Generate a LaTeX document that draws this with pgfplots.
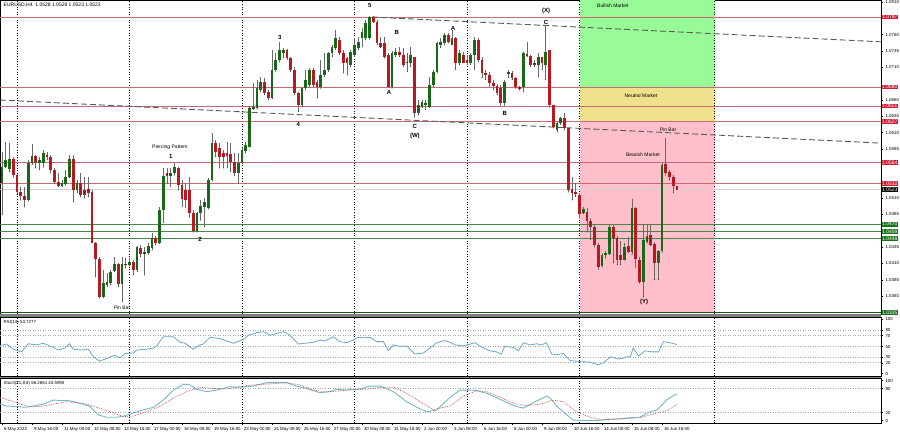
\documentclass[border=0pt]{standalone}
\usepackage{pgfplots}
\pgfplotsset{compat=1.18}
\usepackage{pgfplotstable}
\usepackage{fontspec}
\setmainfont{Liberation Sans}

\definecolor{bull}{RGB}{25,105,25}
\definecolor{bear}{RGB}{185,25,35}
\definecolor{wick}{RGB}{105,105,105}
\definecolor{lvlred}{RGB}{200,105,115}
\definecolor{lvlgreen}{RGB}{70,135,70}
\definecolor{boxred}{RGB}{205,30,50}
\definecolor{boxgreen}{RGB}{25,115,25}
\definecolor{zgreen}{RGB}{152,251,152}
\definecolor{zyellow}{RGB}{240,226,140}
\definecolor{zpink}{RGB}{255,192,203}
\definecolor{rsiblue}{RGB}{110,165,205}
\definecolor{stochmain}{RGB}{115,185,200}
\definecolor{stochsig}{RGB}{200,70,70}

\newcommand\tf{\fontsize{4.4}{5}\selectfont}
\newcommand\af{\fontsize{5}{6}\selectfont}
\newcommand\wf{\fontsize{6}{7}\selectfont\bfseries}

\pgfplotstableread{
i o h l c
0 1.0533 1.0580 1.0484 1.0557
1 1.0557 1.0596 1.0556 1.0568
2 1.0554 1.0594 1.0550 1.0570
3 1.0570 1.0573 1.0542 1.0545
4 1.0545 1.0547 1.0516 1.0519
5 1.0519 1.0527 1.0507 1.0513
6 1.0513 1.0527 1.0496 1.0507
7 1.0507 1.0568 1.0505 1.0564
8 1.0564 1.0593 1.0561 1.0574
9 1.0574 1.0576 1.0556 1.0564
10 1.0564 1.0573 1.0553 1.0568
11 1.0564 1.0584 1.0557 1.0579
12 1.0576 1.0580 1.0568 1.0573
13 1.0573 1.0576 1.0548 1.0553
14 1.0553 1.0556 1.0533 1.0535
15 1.0535 1.0548 1.0527 1.0528
16 1.0528 1.0538 1.0527 1.0533
17 1.0531 1.0553 1.0530 1.0542
18 1.0542 1.0576 1.0541 1.0570
19 1.0570 1.0576 1.0504 1.0522
20 1.0522 1.0538 1.0518 1.0533
21 1.0533 1.0548 1.0512 1.0515
22 1.0522 1.0542 1.0510 1.0515
23 1.0524 1.0542 1.0512 1.0518
24 1.0519 1.0522 1.0441 1.0441
25 1.0441 1.0443 1.0389 1.0417
26 1.0417 1.0420 1.0357 1.0359
27 1.0359 1.0400 1.0357 1.0380
28 1.0377 1.0395 1.0374 1.0382
29 1.0380 1.0400 1.0377 1.0397
30 1.0398 1.0420 1.0397 1.0409
31 1.0409 1.0411 1.0374 1.0379
32 1.0379 1.0420 1.0351 1.0409
33 1.0408 1.0418 1.0403 1.0409
34 1.0408 1.0418 1.0406 1.0412
35 1.0412 1.0415 1.0392 1.0400
36 1.0400 1.0437 1.0397 1.0435
37 1.0433 1.0438 1.0420 1.0424
38 1.0424 1.0435 1.0392 1.0427
39 1.0426 1.0441 1.0424 1.0437
40 1.0433 1.0457 1.0430 1.0449
41 1.0449 1.0452 1.0438 1.0441
42 1.0441 1.0496 1.0440 1.0492
43 1.0492 1.0556 1.0472 1.0544
44 1.0548 1.0556 1.0533 1.0544
45 1.0544 1.0556 1.0527 1.0548
46 1.0548 1.0564 1.0545 1.0557
47 1.0556 1.0557 1.0522 1.0530
48 1.0530 1.0538 1.0496 1.0508
49 1.0522 1.0533 1.0495 1.0507
50 1.0522 1.0542 1.0481 1.0487
51 1.0487 1.0492 1.0458 1.0460
52 1.0460 1.0489 1.0458 1.0487
53 1.0487 1.0507 1.0476 1.0498
54 1.0496 1.0510 1.0466 1.0504
55 1.0495 1.0541 1.0493 1.0538
56 1.0538 1.0610 1.0536 1.0594
57 1.0594 1.0599 1.0573 1.0580
58 1.0587 1.0594 1.0556 1.0573
59 1.0579 1.0584 1.0556 1.0573
60 1.0579 1.0596 1.0556 1.0574
61 1.0577 1.0594 1.0550 1.0565
62 1.0565 1.0579 1.0544 1.0548
63 1.0548 1.0579 1.0533 1.0564
64 1.0564 1.0587 1.0562 1.0584
65 1.0582 1.0596 1.0579 1.0591
66 1.0588 1.0651 1.0588 1.0648
67 1.0646 1.0686 1.0645 1.0649
68 1.0648 1.0691 1.0646 1.0678
69 1.0675 1.0695 1.0672 1.0688
70 1.0688 1.0694 1.0668 1.0671
71 1.0672 1.0675 1.0660 1.0663
72 1.0663 1.0737 1.0662 1.0706
73 1.0706 1.0732 1.0704 1.0721
74 1.0721 1.0749 1.0718 1.0737
75 1.0732 1.0740 1.0724 1.0737
76 1.0737 1.0738 1.0721 1.0724
77 1.0724 1.0726 1.0703 1.0706
78 1.0706 1.0711 1.0668 1.0671
79 1.0671 1.0672 1.0642 1.0652
80 1.0652 1.0680 1.0649 1.0678
81 1.0678 1.0706 1.0675 1.0691
82 1.0683 1.0709 1.0680 1.0706
83 1.0706 1.0709 1.0680 1.0683
84 1.0688 1.0691 1.0663 1.0680
85 1.0680 1.0721 1.0678 1.0698
86 1.0698 1.0732 1.0695 1.0706
87 1.0706 1.0733 1.0703 1.0732
88 1.0732 1.0744 1.0726 1.0741
89 1.0740 1.0767 1.0737 1.0755
90 1.0752 1.0756 1.0729 1.0732
91 1.0732 1.0737 1.0701 1.0717
92 1.0724 1.0726 1.0698 1.0717
93 1.0714 1.0737 1.0711 1.0733
94 1.0729 1.0755 1.0726 1.0744
95 1.0740 1.0756 1.0737 1.0749
96 1.0755 1.0770 1.0741 1.0764
97 1.0755 1.0782 1.0752 1.0778
98 1.0755 1.0789 1.0753 1.0787
99 1.0787 1.0789 1.0778 1.0779
100 1.0779 1.0782 1.0744 1.0747
101 1.0747 1.0756 1.0740 1.0741
102 1.0747 1.0756 1.0724 1.0726
103 1.0729 1.0732 1.0680 1.0680
104 1.0680 1.0735 1.0678 1.0732
105 1.0729 1.0740 1.0726 1.0733
106 1.0733 1.0741 1.0726 1.0729
107 1.0729 1.0740 1.0711 1.0714
108 1.0717 1.0732 1.0703 1.0718
109 1.0717 1.0741 1.0711 1.0729
110 1.0726 1.0726 1.0634 1.0640
111 1.0640 1.0660 1.0637 1.0652
112 1.0649 1.0660 1.0648 1.0657
113 1.0654 1.0660 1.0645 1.0655
114 1.0649 1.0695 1.0648 1.0683
115 1.0683 1.0706 1.0680 1.0703
116 1.0703 1.0749 1.0701 1.0747
117 1.0744 1.0755 1.0740 1.0749
118 1.0747 1.0763 1.0744 1.0759
119 1.0759 1.0763 1.0747 1.0749
120 1.0744 1.0767 1.0744 1.0755
121 1.0755 1.0756 1.0706 1.0717
122 1.0717 1.0737 1.0714 1.0732
123 1.0729 1.0733 1.0717 1.0717
124 1.0721 1.0729 1.0714 1.0717
125 1.0717 1.0732 1.0714 1.0729
126 1.0729 1.0756 1.0706 1.0752
127 1.0752 1.0755 1.0718 1.0721
128 1.0721 1.0726 1.0694 1.0701
129 1.0701 1.0706 1.0691 1.0698
130 1.0698 1.0703 1.0681 1.0686
131 1.0686 1.0691 1.0675 1.0681
132 1.0681 1.0685 1.0668 1.0671
133 1.0678 1.0683 1.0652 1.0655
134 1.0655 1.0691 1.0652 1.0688
135 1.0700 1.0706 1.0694 1.0703
136 1.0701 1.0704 1.0691 1.0694
137 1.0694 1.0695 1.0678 1.0680
138 1.0680 1.0681 1.0675 1.0677
139 1.0680 1.0733 1.0672 1.0732
140 1.0730 1.0749 1.0726 1.0727
141 1.0727 1.0729 1.0711 1.0714
142 1.0717 1.0721 1.0711 1.0714
143 1.0714 1.0732 1.0695 1.0726
144 1.0726 1.0726 1.0706 1.0717
145 1.0714 1.0775 1.0691 1.0733
146 1.0737 1.0737 1.0649 1.0652
147 1.0652 1.0652 1.0617 1.0619
148 1.0614 1.0626 1.0611 1.0625
149 1.0625 1.0634 1.0622 1.0632
150 1.0632 1.0640 1.0614 1.0617
151 1.0617 1.0617 1.0519 1.0522
152 1.0524 1.0542 1.0507 1.0518
153 1.0519 1.0533 1.0512 1.0516
154 1.0515 1.0518 1.0479 1.0486
155 1.0487 1.0496 1.0486 1.0493
156 1.0489 1.0495 1.0458 1.0475
157 1.0475 1.0479 1.0446 1.0466
158 1.0466 1.0469 1.0435 1.0438
159 1.0438 1.0441 1.0401 1.0404
160 1.0406 1.0426 1.0404 1.0423
161 1.0424 1.0429 1.0418 1.0426
162 1.0424 1.0469 1.0423 1.0466
163 1.0466 1.0469 1.0411 1.0449
164 1.0449 1.0452 1.0408 1.0415
165 1.0423 1.0444 1.0408 1.0415
166 1.0415 1.0441 1.0415 1.0435
167 1.0437 1.0450 1.0426 1.0427
168 1.0427 1.0508 1.0424 1.0495
169 1.0495 1.0496 1.0404 1.0417
170 1.0415 1.0420 1.0380 1.0382
171 1.0382 1.0469 1.0359 1.0446
172 1.0443 1.0469 1.0441 1.0452
173 1.0453 1.0469 1.0437 1.0438
174 1.0440 1.0443 1.0385 1.0411
175 1.0411 1.0430 1.0385 1.0429
176 1.0429 1.0564 1.0427 1.0561
177 1.0562 1.0602 1.0545 1.0548
178 1.0550 1.0553 1.0538 1.0542
179 1.0542 1.0545 1.0518 1.0528
180 1.0528 1.0528 1.0523 1.0523
}\candles

\pgfplotsset{
  panel/.style={
    scale only axis, width=881pt,
    xmin=-0.533, xmax=234.4,
    axis line style={black, line width=0.6pt},
    clip mode=individual,
    tick align=outside, major tick length=2pt,
    ytick pos=right, yticklabel pos=right,
    xtick=\empty,
    ticklabel style={font=\tf, text=black},
    yticklabel style={xshift=-1pt},
    /pgf/number format/assume math mode=true,
    tick style={black, line width=0.4pt},
  },
  vdot/.style={black, dotted, line width=0.6pt},
  lvl/.style={line width=0.7pt},
  nomark/.style={only marks, mark=*, mark size=0.01pt, mark options={draw=none, fill=none}},
}
\tikzset{pbox/.style={font=\af, text=white, inner sep=0.6pt, anchor=west, xshift=0.3pt}}

\begin{document}
\begin{tikzpicture}
\useasboundingbox (0,0) rectangle (900pt,433pt);
\fill[white] (0,0) rectangle (900pt,433pt);
% ---------------- main price panel
\begin{axis}[panel, at={(0pt,119pt)}, anchor=south west, height=314pt,
  ymin=1.03326, ymax=1.0813,
  ytick={1.0360,1.0385,1.0410,1.0435,1.0485,1.0510,1.0585,1.0610,1.0635,1.0660,1.0710,1.0735,1.0760,1.0810},
  yticklabel style={/pgf/number format/.cd, fixed, fixed zerofill, precision=4}]
% market zones
\addplot[fill=zgreen, draw=none] coordinates {(154,1.0680) (190,1.0680) (190,1.0813) (154,1.0813)} -- cycle;
\addplot[fill=zyellow, draw=none] coordinates {(154,1.0627) (190,1.0627) (190,1.0680) (154,1.0680)} -- cycle;
\addplot[fill=zpink, draw=none] coordinates {(154,1.0335) (190,1.0335) (190,1.0627) (154,1.0627)} -- cycle;
% week separators
\pgfplotsinvokeforeach{4,34,64,94,124,154,190}{
  \addplot[vdot] coordinates {(#1,1.03326) (#1,1.0813)};
}
% horizontal levels
\pgfplotsinvokeforeach{1.0787,1.0680,1.0651,1.0627,1.0564,1.0532}{
  \addplot[lvl, lvlred] coordinates {(-0.533,#1) (234.4,#1)};
}
\addplot[line width=0.6pt, black!18] coordinates {(-0.533,1.0523) (234.4,1.0523)};
\pgfplotsinvokeforeach{1.0470,1.0459,1.0448}{
  \addplot[lvl, lvlgreen] coordinates {(-0.533,#1) (234.4,#1)};
}
\addplot[line width=1.6pt, bull!85!black] coordinates {(-0.533,1.0335) (234.4,1.0335)};
% trend lines
\addplot[black!65, line width=0.9pt, dash pattern=on 6pt off 3pt] coordinates {(98.7,1.0787) (234.4,1.0749)};
\addplot[black!65, line width=0.9pt, dash pattern=on 6pt off 3pt] coordinates {(-0.533,1.0660) (234.4,1.0594)};
% wicks
\addplot[nomark, error bars/.cd, y dir=plus, y explicit, error mark=none,
  error bar style={line width=0.8pt, color=wick}]
  table[x=i, y=l, y error expr=\thisrow{h}-\thisrow{l}]{\candles};
% bullish bodies
\addplot[nomark,
  restrict expr to domain={\thisrow{c}-\thisrow{o}}{0.00001:1},
  error bars/.cd, y dir=both, y explicit, error mark=none,
  error bar style={line width=2.6pt, color=bull}]
  table[x=i, y expr={(\thisrow{o}+\thisrow{c})/2}, y error expr={max(abs(\thisrow{c}-\thisrow{o})/2,0.00004)}]{\candles};
% bearish bodies
\addplot[nomark,
  restrict expr to domain={\thisrow{o}-\thisrow{c}}{0:1},
  error bars/.cd, y dir=both, y explicit, error mark=none,
  error bar style={line width=2.6pt, color=bear}]
  table[x=i, y expr={(\thisrow{o}+\thisrow{c})/2}, y error expr={max(abs(\thisrow{c}-\thisrow{o})/2,0.00004)}]{\candles};
% annotations
\node[font=\af, anchor=north west, inner sep=0pt] at (rel axis cs:0.004,0.992) {EURUSD,H4\ \ 1.0528 1.0528 1.0523 1.0523};
\node[font=\af] at (axis cs:44.8,1.0588) {Piercing Pattern};
\node[font=\wf] at (axis cs:45,1.0574) {1};
\node[font=\wf] at (axis cs:52.8,1.0446) {2};
\node[font=\wf] at (axis cs:74.1,1.0755) {3};
\node[font=\wf] at (axis cs:79,1.0622) {4};
\node[font=\wf] at (axis cs:98.1,1.0804) {5};
\node[font=\wf] at (axis cs:105.3,1.0763) {B};
\node[font=\wf] at (axis cs:103.2,1.0671) {A};
\node[font=\wf] at (axis cs:110.1,1.0619) {C};
\node[font=\wf] at (axis cs:110.1,1.0605) {(W)};
\node[font=\wf] at (axis cs:120.3,1.0770) {A};
\node[font=\wf] at (axis cs:134.1,1.0640) {B};
\node[font=\wf] at (axis cs:145.1,1.0779) {C};
\node[font=\wf] at (axis cs:145.1,1.0796) {(X)};
\node[font=\wf] at (axis cs:171.2,1.0351) {(Y)};
\node[font=\af] at (axis cs:162.9,1.0805) {Bullish Market};
\node[font=\af] at (axis cs:170.4,1.0666) {Neutral Market};
\node[font=\af] at (axis cs:170.9,1.0576) {Bearish Market};
\node[font=\af] at (axis cs:177.6,1.0614) {Pin Bar};
\node[font=\af] at (axis cs:32,1.0342) {Pin Bar};
% price boxes
\pgfplotsinvokeforeach{1.0787,1.0680,1.0651,1.0627,1.0564,1.0532}{
  \node[pbox, fill=boxred] at (axis cs:234.4,#1) {#1};
}
\pgfplotsinvokeforeach{1.0470,1.0459,1.0448,1.0335}{
  \node[pbox, fill=boxgreen] at (axis cs:234.4,#1) {#1};
}
\node[pbox, fill=black] at (axis cs:234.4,1.0523) {1.0523};
\end{axis}
% separators
\fill[black!50] (0,116pt) rectangle (881pt,119pt);
\fill[black!50] (0,55pt) rectangle (881pt,57pt);
% ---------------- RSI panel
\begin{axis}[panel, at={(0pt,57pt)}, anchor=south west, height=59pt,
  ymin=-4.6, ymax=104.6, ytick={0,20,30,50,70,80,100}]
\pgfplotsinvokeforeach{20,30,50,70,80}{
  \addplot[black!35, dotted, line width=0.5pt] coordinates {(-0.533,#1) (234.4,#1)};
}
\pgfplotsinvokeforeach{4,34,64,94,124,154,190}{
  \addplot[vdot] coordinates {(#1,-4.6) (#1,104.6)};
}
\addplot[rsiblue, line width=0.8pt] coordinates {
(-0.5,51.5) (1.2,54.6) (3,45) (5.2,40) (7,55) (9.2,53) (11,56) (12.8,51) (15,43.5) (16.8,47) (18,55) (19,45) (21.2,43.5) (23,45) (24.4,31) (26,23) (28,28) (30,34) (31.5,29) (32.8,37) (35,38) (36,43.5) (38.6,45) (40.4,47) (41.2,50.6) (43,68) (45.7,68) (47.5,57.7) (48.8,56) (51,45) (52.8,53) (53.7,54.6) (55.5,67) (58,65) (61.7,56) (64.4,63) (65.7,71) (68,75.6) (69.7,77.5) (71.5,71) (73.2,74) (75,77.5) (76.8,71) (79,54.6) (80.8,56) (83,57.7) (84.8,62) (86.1,60) (88.4,68) (90.1,59) (91.9,57) (93.7,62) (95,67) (96.4,66) (98.1,67) (99.9,59) (101.7,59) (103,42.3) (104.4,53) (106.1,50) (107.9,51) (110.1,36) (112.4,38) (114.1,47) (115.9,57) (118.1,61) (119.5,57.7) (120.8,53) (123,51) (126.1,57) (128.4,47) (130.1,42) (131.9,40) (133.2,36) (134.1,50.6) (136.4,48) (137.7,42) (139,57) (140.8,53) (142.6,55) (143.9,53) (145.2,57) (146.6,36) (148,35) (149.7,37) (151.5,24) (154.1,22) (156.8,21) (159.1,16) (160.4,20) (162.3,31) (164.1,27) (165.4,28) (166.8,31) (167.6,31) (168.3,47) (169.8,32.5) (171.5,42) (173.3,40) (175.1,40) (176.4,59) (178.1,57) (180,53.7)};
\node[font=\tf, anchor=north west, inner sep=0pt] at (rel axis cs:0.004,0.95) {RSI(14) 53.7277};
\end{axis}
% ---------------- Stochastic panel
\begin{axis}[panel, at={(0pt,10pt)}, anchor=south west, height=45pt,
  ymin=-6.25, ymax=106.25, ytick={0,20,80,100},
  xtick={0,8,...,176}, xtick pos=bottom,
  xticklabels={6 May 2022,9 May 16:00,11 May 00:00,12 May 08:00,13 May 16:00,17 May 00:00,18 May 08:00,19 May 16:00,23 May 00:00,24 May 08:00,25 May 16:00,27 May 00:00,30 May 08:00,31 May 16:00,2 Jun 00:00,3 Jun 08:00,6 Jun 16:00,8 Jun 00:00,9 Jun 08:00,10 Jun 16:00,14 Jun 00:00,15 Jun 08:00,16 Jun 16:00},
  xticklabel style={anchor=north west, xshift=-1.5pt, yshift=1pt}]
\pgfplotsinvokeforeach{20,80}{
  \addplot[black!35, dotted, line width=0.5pt] coordinates {(-0.533,#1) (234.4,#1)};
}
\pgfplotsinvokeforeach{4,34,64,94,124,154,190}{
  \addplot[vdot] coordinates {(#1,-6.25) (#1,106.25)};
}
\addplot[stochmain, line width=0.9pt] coordinates {
(-0.5,41) (1.2,36) (3.9,35) (6.1,33) (8.4,36) (11,41) (13.7,51) (15.5,50) (17.7,50) (20.8,43) (23.5,35) (25.7,14) (27.9,8) (30.6,8) (32.4,11) (34.1,16) (36.8,24.5) (40.4,33) (43,51) (45.7,76) (48.4,91) (50.1,89) (51.9,78) (54.6,72) (57.2,76) (60.8,84.5) (63.5,83) (67,86) (70.6,94.5) (73.2,94.5) (75.9,94.5) (78.6,86) (81.2,80) (84.8,69.5) (87.5,72) (89.2,78) (91.9,76) (95.5,78.5) (98.1,86) (100.8,86) (104.4,72) (107.9,47) (110.6,33) (113.2,22) (115.9,26) (119.5,58) (122.1,76) (124.8,76) (126.6,74.5) (129.2,68) (131.9,57) (134.6,45) (137.2,35) (139,31) (140.8,40) (142.6,49) (144.4,57) (145.2,61) (146.1,57) (147.9,36) (150.6,14) (152.4,1) (155,0) (158.6,0) (162.1,3) (165.7,5) (168.4,8) (170.1,8) (172.8,22) (174.6,26) (177.2,51) (179,62) (180,66.3)};
\addplot[stochsig, line width=0.7pt, densely dotted] coordinates {
(-0.5,58) (3,47) (6.6,36) (10.1,35) (13.7,41) (17.2,47) (21.7,43) (25.2,33) (28.8,22) (32.4,9.5) (35,11) (38.6,22) (42.1,35) (45.7,56) (49.2,72) (52.8,83) (56.4,80) (59.9,79) (63.5,84.5) (67,89) (70.6,91) (75.9,94.5) (79.5,89) (83,76) (86.6,72) (90.1,74) (93.7,78) (97.2,78) (100.8,83) (104.4,83) (107.9,68) (111.5,47) (115,27) (119.5,37) (123,61) (126.6,74.5) (129.2,72) (132.8,58) (136.4,43) (140,37) (143.5,41) (147,51) (149.7,47) (153.2,22) (156.8,8) (159.5,1.5) (163.1,3) (166.7,5) (170.1,7) (173.6,16) (177.2,24) (180,40)};
\node[font=\tf, anchor=north west, inner sep=0pt] at (rel axis cs:0.004,0.93) {Stoch(21,8,8) 66.2861 43.5990};
\end{axis}
\end{tikzpicture}
\end{document}
